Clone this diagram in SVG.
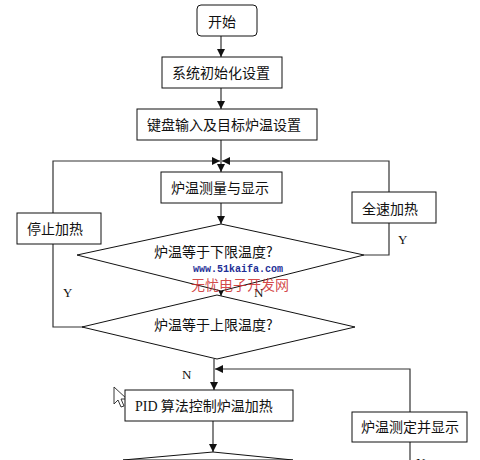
<svg xmlns="http://www.w3.org/2000/svg" width="480" height="460" viewBox="0 0 480 460">
<defs>
<marker id="ah" markerWidth="8" markerHeight="8" refX="8" refY="4" orient="auto" markerUnits="userSpaceOnUse">
<path d="M0,0 L8,4 L0,8 z" fill="#111"/>
</marker>
<style>
.box{fill:#fff;stroke:#111;stroke-width:1}
.ln{fill:none;stroke:#333;stroke-width:1.2}
.t{font-family:"Noto Sans CJK SC","Noto Sans",sans-serif;font-size:14px;fill:#111}
.l{font-family:"Liberation Serif",serif;font-size:13px;fill:#111}
</style>
</defs>
<rect width="480" height="460" fill="#fff"/>
<g id="connectors">
<line class="ln" x1="221" y1="36" x2="221" y2="57" marker-end="url(#ah)"/>
<line class="ln" x1="221" y1="88" x2="221" y2="109" marker-end="url(#ah)"/>
<line class="ln" x1="221" y1="140" x2="221" y2="172" marker-end="url(#ah)"/>
<polyline class="ln" points="84,327 53,327 53,161 220,161" marker-end="url(#ah)"/>
<polyline class="ln" points="364,255 389,255 389,161 222,161" marker-end="url(#ah)"/>
<line class="ln" x1="221" y1="203" x2="221" y2="224" marker-end="url(#ah)"/>
<line class="ln" x1="221" y1="291" x2="221" y2="296" marker-end="url(#ah)"/>
<line class="ln" x1="214" y1="359" x2="214" y2="390" marker-end="url(#ah)"/>
<polyline class="ln" points="410,412 410,369 215,369" marker-end="url(#ah)"/>
<line class="ln" x1="213" y1="421" x2="213" y2="452" marker-end="url(#ah)"/>
<line class="ln" x1="410" y1="442" x2="410" y2="460"/>
</g>
<polygon points="114,387 114,404 118,400 121,407 124,406 121,399 127,399" fill="#fff" stroke="#222" stroke-width="0.9"/>
<g id="start"><rect class="box" x="197" y="5" width="60" height="31" rx="4"/><text class="t" x="208" y="27">开始</text></g>
<g id="init"><rect class="box" x="162" y="57" width="120" height="31"/><text class="t" x="172" y="78">系统初始化设置</text></g>
<g id="input"><rect class="box" x="137" y="109" width="180" height="31"/><text class="t" x="147" y="130">键盘输入及目标炉温设置</text></g>
<g id="measure"><rect class="box" x="161" y="172" width="121" height="31"/><text class="t" x="171" y="193">炉温测量与显示</text></g>
<g id="fullheat"><rect class="box" x="352" y="192" width="84" height="31"/><text class="t" x="362" y="214">全速加热</text></g>
<g id="stopheat"><rect class="box" x="17" y="213" width="84" height="31"/><text class="t" x="27" y="234">停止加热</text></g>
<g id="dec1"><polygon class="box" points="221,224 364,255 221,291 77,255"/><text class="t" x="154" y="257">炉温等于下限温度?</text></g>
<g id="dec2"><polygon class="box" points="217,295 355,327 217,359 82,327"/><text class="t" x="154" y="330">炉温等于上限温度?</text></g>
<g id="pid"><rect class="box" x="125" y="390" width="168" height="31"/><text class="t" x="135" y="411"><tspan font-family="Liberation Serif, serif">PID</tspan> 算法控制炉温加热</text></g>
<g id="measure2"><rect class="box" x="352" y="412" width="115" height="30"/><text class="t" x="361" y="432">炉温测定并显示</text></g>
<g id="dec3"><polygon class="box" points="213,452 293,460 123,460"/></g>
<g id="labels">
<text class="l" x="398" y="244">Y</text>
<text class="l" x="63" y="297">Y</text>
<text class="l" x="254" y="297">N</text>
<text class="l" x="182" y="379">N</text>
<text class="l" x="416" y="467">N</text>
</g>
<g id="watermark">
<text x="193" y="272" font-family="Liberation Mono, monospace" font-size="10" font-weight="bold" fill="#1e2f96">www.51kaifa.com</text>
<text x="191" y="290" font-family="Noto Sans CJK SC, sans-serif" font-size="14" fill="#cc2a2a" fill-opacity="0.85">无忧电子开发网</text>
</g>
</svg>
